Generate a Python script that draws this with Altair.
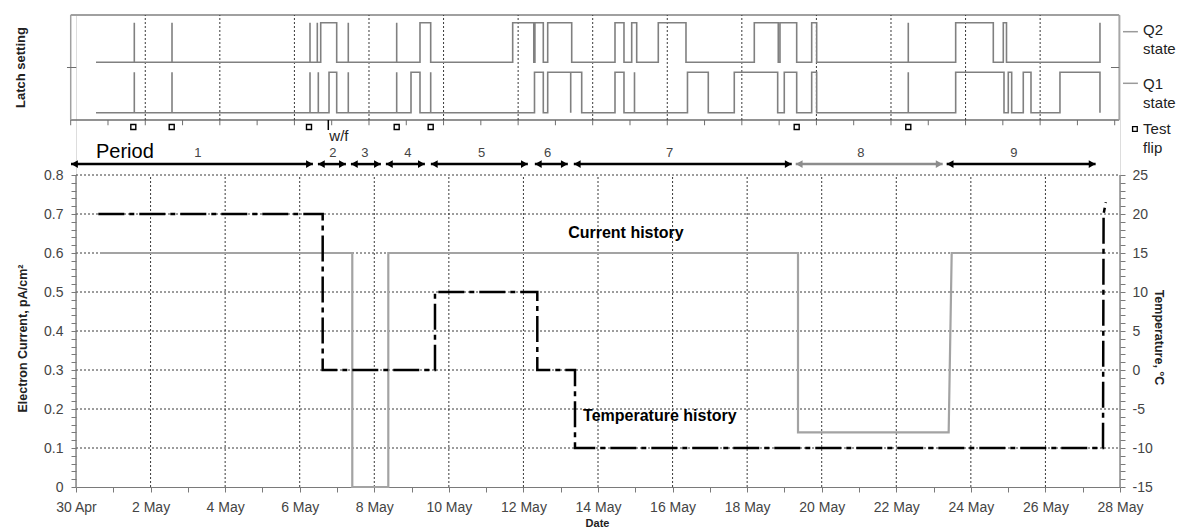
import altair as alt
import pandas as pd

FONT = "Liberation Sans"

# ---------------- data ----------------
X_TICK_LABELS = ["30 Apr", "2 May", "4 May", "6 May", "8 May", "10 May", "12 May",
                 "14 May", "16 May", "18 May", "20 May", "22 May", "24 May", "26 May", "28 May"]
GRID_DAYS = [2, 4, 6, 8, 10, 12, 14, 16, 18, 20, 22, 24, 26]
CUR_GRID = [0.1, 0.2, 0.3, 0.4, 0.5, 0.6, 0.7, 0.8]

# Current history (days since 30 Apr, pA/cm^2)
CUR_DAY = [0.644, 7.41, 7.41, 8.376, 8.376, 19.364, 19.364, 23.405, 23.486, 27.57]
CUR_VAL = [0.6, 0.6, 0.0, 0.0, 0.6, 0.6, 0.14, 0.14, 0.6, 0.6]

# Temperature history (days, deg C)
TEMP_DAY = [0.598, 6.616, 6.616, 9.628, 9.628, 12.372, 12.372, 13.383, 13.383, 27.544, 27.56, 27.62]
TEMP_VAL = [20, 20, 0, 0, 10, 10, 0, 0, -10, -10, 20, 21.5]

# Latch states (step-after: time, new state)
Q2_T = [0.679, 1.706, 1.706, 2.717, 2.717, 6.418, 6.418, 6.614, 6.614, 6.705, 7.134,
        7.445, 7.445, 8.743, 8.743, 9.368, 9.655, 11.854, 12.42, 12.45, 12.675, 12.793,
        13.437, 14.598, 14.839, 15.046, 15.180, 15.759, 16.502, 18.334, 18.977, 19.023,
        19.471, 19.873, 20.007, 22.464, 22.464, 23.735, 24.744, 25.012, 25.098, 27.605, 27.605]
Q2_S = [0, 1, 0, 1, 0, 1, 0, 1, 0, 1, 0,
        1, 0, 1, 0, 1, 0, 1, 0, 1, 0, 1,
        0, 1, 0, 1, 0, 1, 0, 1, 0, 1,
        0, 1, 0, 1, 0, 1, 0, 1, 0, 1, 0]
Q1_T = [0.679, 1.706, 1.706, 2.717, 2.717, 6.418, 6.418, 6.641, 6.641, 6.928, 7.134,
        7.445, 7.445, 8.743, 8.743, 9.127, 9.368, 9.655, 9.655, 12.439, 12.675, 12.793,
        13.410, 13.410, 13.705, 14.598, 14.839, 15.121, 15.121, 16.542, 17.100, 17.797,
        18.961, 19.138, 19.471, 19.873, 20.007, 22.464, 22.464, 23.735, 25.031, 25.146,
        25.237, 25.548, 25.755, 26.532, 27.605]
Q1_S = [0, 1, 0, 1, 0, 1, 0, 1, 0, 1, 0,
        1, 0, 1, 0, 1, 0, 1, 0, 1, 0, 1,
        0, 1, 0, 1, 0, 1, 0, 1, 0, 1,
        0, 1, 0, 1, 0, 1, 0, 1, 0, 1,
        0, 1, 0, 1, 0]
FLIP_T = [1.679, 2.709, 6.391, 8.743, 9.655, 19.471, 22.464]
WF_T = [6.909]

# Periods (days since 30 Apr)
PERIOD_ID = ["1", "2", "3", "4", "5", "6", "7", "8", "9"]
PERIOD_START = [-0.134, 6.488, 7.373, 8.311, 9.517, 12.306, 13.351, 19.303, 23.351]
PERIOD_END = [6.354, 7.239, 8.177, 9.357, 12.118, 13.19, 19.196, 23.244, 27.346]
PERIOD_LABEL_X = [3.27, 6.89, 7.75, 8.9, 10.88, 12.65, 15.92, 21.05, 25.15]

# ---------------- scales ----------------
X = alt.Scale(domain=[0, 28], nice=False, zero=False)
Y_CUR = alt.Scale(domain=[0, 0.8], range=[472, 160], nice=False, zero=False)
Y_TEMP = alt.Scale(domain=[-15, 25], range=[472, 160], nice=False, zero=False)
Y_FRAME = alt.Scale(domain=[0, 2], range=[105, 0], nice=False, zero=False)
Y_Q1 = alt.Scale(domain=[0, 1], range=[97.7, 57.3], nice=False, zero=False)
Y_Q2 = alt.Scale(domain=[0, 1], range=[47.3, 7.7], nice=False, zero=False)
TOP_DX = -5.3
TOP_END = 28.12

arr = "[" + ",".join(f"'{s}'" for s in X_TICK_LABELS) + "]"
X_AXIS = alt.Axis(values=list(range(29)), labelExpr=f"datum.value % 2 == 0 ? {arr}[datum.value / 2] : ''",
                  grid=False, domainColor="#7a7a7a", tickColor="#7a7a7a", tickSize=5,
                  labelFont=FONT, labelFontSize=14, labelColor="#444", labelPadding=8,
                  labelFlush=False, labelOverlap=False, title="Date", titleFont=FONT,
                  titleFontSize=11, titleFontWeight="bold", titleColor="#222",
                  titleX=521, titleY=36, titleAlign="center", titleBaseline="middle")


def xq(f):
    return alt.X(f"{f}:Q", scale=X, axis=X_AXIS)


def yq(f, sc):
    return alt.Y(f"{f}:Q", scale=sc, axis=None)


GRID_STYLE = dict(color="#3a3a3a", strokeDash=[2, 2], strokeWidth=1)
layers = []

# main grid
layers.append(alt.Chart(pd.DataFrame({"d": GRID_DAYS, "lo": 0.0, "hi": 0.8})).mark_rule(**GRID_STYLE)
              .encode(x=xq("d"), y=yq("lo", Y_CUR), y2="hi:Q"))
layers.append(alt.Chart(pd.DataFrame({"v": CUR_GRID, "a": 0, "b": 28})).mark_rule(**GRID_STYLE)
              .encode(x=xq("a"), x2="b:Q", y=yq("v", Y_CUR)))
# left / right axis lines
layers.append(alt.Chart(pd.DataFrame({"d": [0, 28], "lo": 0.0, "hi": 0.8}))
              .mark_rule(color="#7a7a7a", strokeWidth=1.3)
              .encode(x=xq("d"), y=yq("lo", Y_CUR), y2="hi:Q"))

y_axis = alt.Axis(values=[round(i * 0.02, 2) for i in range(41)],
                  labelExpr="round(datum.value*50) % 5 == 0 ? (datum.value == 0 ? '0' : format(datum.value, '.1f')) : ''",
                  orient="left", grid=False, domain=False, tickColor="#7a7a7a", tickSize=5,
                  labelFont=FONT, labelFontSize=14, labelColor="#444", labelPadding=8, labelOverlap=False,
                  title="Electron Current, pA/cm²", titleFont=FONT, titleFontSize=12.5,
                  titleFontWeight="bold", titleColor="#222", titleX=-54, titleY=323,
                  titleAlign="center", titleBaseline="middle", titleAngle=270)
cur_df = pd.DataFrame({"day": CUR_DAY, "val": CUR_VAL, "i": range(len(CUR_DAY))})
layers.append(alt.Chart(cur_df).mark_line(color="#a3a3a3", strokeWidth=2.2).encode(
    x=xq("day"),
    y=alt.Y("val:Q", scale=Y_CUR, axis=y_axis),
    order="i:Q"))

t_axis = alt.Axis(values=list(range(-15, 26)), labelExpr="datum.value % 5 == 0 ? '' + datum.value : ''",
                  orient="right", grid=False, domain=False, tickColor="#7a7a7a", tickSize=5,
                  labelFont=FONT, labelFontSize=14, labelColor="#444", labelPadding=7, labelOverlap=False,
                  title="Temperature, °C", titleFont=FONT, titleFontSize=12.5, titleFontWeight="bold",
                  titleColor="#222", titleX=38, titleY=322, titleAlign="center",
                  titleBaseline="middle", titleAngle=90)
temp_df = pd.DataFrame({"day": TEMP_DAY, "t": TEMP_VAL, "i": range(len(TEMP_DAY))})
layers.append(alt.Chart(temp_df).mark_line(color="black", strokeWidth=2.5, strokeDash=[26, 5, 5, 5]).encode(
    x=xq("day"), y=alt.Y("t:Q", scale=Y_TEMP, axis=t_axis), order="i:Q"))

# series annotations
ann = pd.DataFrame({"x": [13.2, 13.6], "y": [0.651, 0.182],
                    "txt": ["Current history", "Temperature history"]})
layers.append(alt.Chart(ann).mark_text(align="left", baseline="middle", font=FONT, fontSize=16,
                                       fontWeight="bold", color="black")
              .encode(x=xq("x"), y=yq("y", Y_CUR), text="txt:N"))

# ---------------- latch panel ----------------
layers.append(alt.Chart(pd.DataFrame({"a": [0.0], "b": [TOP_END], "y": [2]}))
              .mark_rule(color="#a0a0a0", strokeWidth=2, xOffset=TOP_DX, x2Offset=TOP_DX)
              .encode(x=xq("a"), x2="b:Q", y=yq("y", Y_FRAME)))
layers.append(alt.Chart(pd.DataFrame({"a": [0.0], "b": [TOP_END], "y": [0]}))
              .mark_rule(color="#6e6e6e", strokeWidth=1.5, xOffset=TOP_DX, x2Offset=TOP_DX)
              .encode(x=xq("a"), x2="b:Q", y=yq("y", Y_FRAME)))
layers.append(alt.Chart(pd.DataFrame({"d": [0.0, TOP_END], "lo": 0, "hi": 2}))
              .mark_rule(color="#a0a0a0", strokeWidth=1.5, xOffset=TOP_DX)
              .encode(x=xq("d"), y=yq("lo", Y_FRAME), y2="hi:Q"))
layers.append(alt.Chart(pd.DataFrame({"d": GRID_DAYS, "lo": 0, "hi": 2}))
              .mark_rule(xOffset=TOP_DX, **GRID_STYLE)
              .encode(x=xq("d"), y=yq("lo", Y_FRAME), y2="hi:Q"))
layers.append(alt.Chart(pd.DataFrame({"d": list(range(29)), "lo": -0.1, "hi": 0}))
              .mark_rule(color="#6e6e6e", strokeWidth=1, xOffset=TOP_DX)
              .encode(x=xq("d"), y=yq("lo", Y_FRAME), y2="hi:Q"))
layers.append(alt.Chart(pd.DataFrame({"a": [-0.1, 27.9], "b": [0.15, TOP_END], "y": 1}))
              .mark_rule(color="#6e6e6e", strokeWidth=1, xOffset=TOP_DX, x2Offset=TOP_DX)
              .encode(x=xq("a"), x2="b:Q", y=yq("y", Y_FRAME)))

q2_df = pd.DataFrame({"t": Q2_T, "s": Q2_S, "i": range(len(Q2_T))})
q1_df = pd.DataFrame({"t": Q1_T, "s": Q1_S, "i": range(len(Q1_T))})
layers.append(alt.Chart(q2_df).mark_line(interpolate="step-after", color="#808080", strokeWidth=1.6,
                                         xOffset=TOP_DX)
              .encode(x=xq("t"), y=yq("s", Y_Q2), order="i:Q"))
layers.append(alt.Chart(q1_df).mark_line(interpolate="step-after", color="#808080", strokeWidth=1.6,
                                         xOffset=TOP_DX)
              .encode(x=xq("t"), y=yq("s", Y_Q1), order="i:Q"))

layers.append(alt.Chart(pd.DataFrame({"t": FLIP_T, "y": -0.133}))
              .mark_point(shape="square", filled=False, size=25, color="black", strokeWidth=1.4,
                          opacity=1, xOffset=TOP_DX)
              .encode(x=xq("t"), y=yq("y", Y_FRAME)))
layers.append(alt.Chart(pd.DataFrame({"t": WF_T, "lo": -0.19, "hi": 0}))
              .mark_rule(color="black", strokeWidth=1.5, xOffset=TOP_DX)
              .encode(x=xq("t"), y=yq("lo", Y_FRAME), y2="hi:Q"))
layers.append(alt.Chart(pd.DataFrame({"t": WF_T, "y": -0.31, "txt": ["w/f"]}))
              .mark_text(align="left", baseline="middle", font=FONT, fontSize=15, color="#222",
                         dx=1, xOffset=TOP_DX)
              .encode(x=xq("t"), y=yq("y", Y_FRAME), text="txt:N"))
layers.append(alt.Chart(pd.DataFrame({"x": [-1.475], "y": [1.0], "txt": ["Latch setting"]}))
              .mark_text(align="center", baseline="middle", font=FONT, fontSize=13, fontWeight="bold",
                         color="#222", angle=270)
              .encode(x=xq("x"), y=yq("y", Y_FRAME), text="txt:N"))

# ---------------- periods ----------------
per = pd.DataFrame({"id": PERIOD_ID, "a": PERIOD_START, "b": PERIOD_END, "lx": PERIOD_LABEL_X})
per["col"] = ["#8c8c8c" if p == "8" else "black" for p in PERIOD_ID]
per["ya"] = 0.828
per["yl"] = 0.857
layers.append(alt.Chart(per).mark_rule(strokeWidth=2.5)
              .encode(x=xq("a"), x2="b:Q", y=yq("ya", Y_CUR), color=alt.Color("col:N", scale=None)))
layers.append(alt.Chart(per).mark_point(shape="triangle-left", filled=True, size=60, opacity=1, xOffset=3.5)
              .encode(x=xq("a"), y=yq("ya", Y_CUR), color=alt.Color("col:N", scale=None)))
layers.append(alt.Chart(per).mark_point(shape="triangle-right", filled=True, size=60, opacity=1, xOffset=-3.5)
              .encode(x=xq("b"), y=yq("ya", Y_CUR), color=alt.Color("col:N", scale=None)))
layers.append(alt.Chart(per).mark_text(font=FONT, fontSize=13, color="#444", baseline="middle")
              .encode(x=xq("lx"), y=yq("yl", Y_CUR), text="id:N"))
layers.append(alt.Chart(pd.DataFrame({"x": [0.536], "y": [0.86], "txt": ["Period"]}))
              .mark_text(align="left", baseline="middle", font=FONT, fontSize=20, color="black")
              .encode(x=xq("x"), y=yq("y", Y_CUR), text="txt:N"))

# ---------------- legend ----------------
layers.append(alt.Chart(pd.DataFrame({"a": [28.08, 28.08], "b": [28.48, 28.48], "y": [1.682, 0.699]}))
              .mark_rule(color="#9a9a9a", strokeWidth=1.5)
              .encode(x=xq("a"), x2="b:Q", y=yq("y", Y_FRAME)))
leg = pd.DataFrame({"x": 28.62, "y": [1.714, 1.352, 0.686, 0.324, -0.171, -0.533],
                    "txt": ["Q2", "state", "Q1", "state", "Test", "flip"]})
layers.append(alt.Chart(leg).mark_text(align="left", baseline="middle", font=FONT, fontSize=15, color="#222")
              .encode(x=xq("x"), y=yq("y", Y_FRAME), text="txt:N"))
layers.append(alt.Chart(pd.DataFrame({"x": [28.40], "y": [-0.171]}))
              .mark_point(shape="square", filled=False, size=22, color="black", strokeWidth=1.3, opacity=1)
              .encode(x=xq("x"), y=yq("y", Y_FRAME)))

chart = (alt.layer(*layers)
         .resolve_scale(y="independent")
         .properties(width=1044, height=472,
                     padding={"left": 76, "top": 15, "right": 81, "bottom": 45},
                     autosize=alt.AutoSizeParams(type="none"))
         .configure_view(strokeWidth=0)
         .configure(font=FONT, background="white"))

chart.save("out.html", embed_options={"renderer": "svg", "actions": False})
